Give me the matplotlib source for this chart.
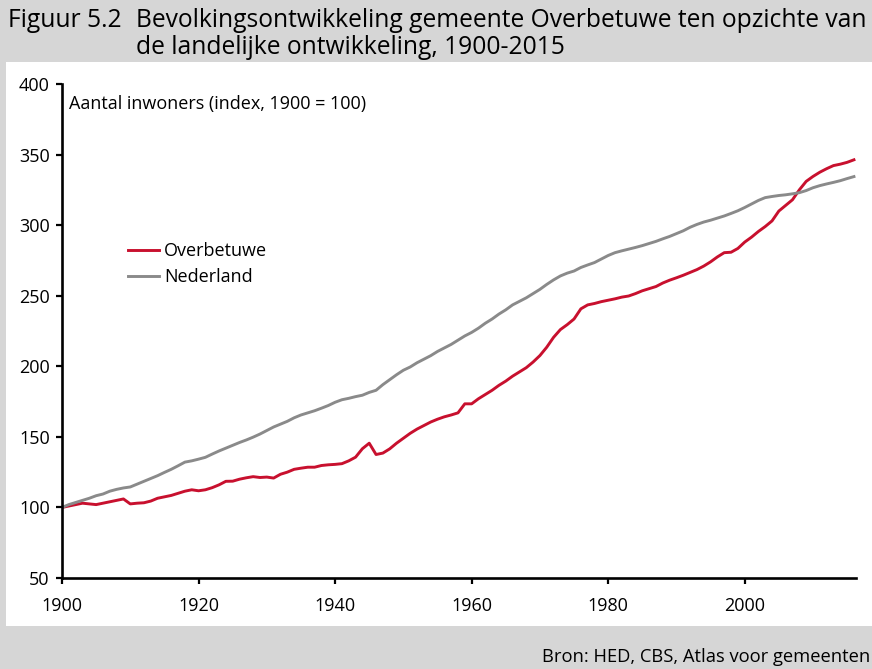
import matplotlib
matplotlib.use("Agg")
import matplotlib.pyplot as plt
from matplotlib.patches import Rectangle

plt.rcParams['font.family'] = ['Open Sans', 'DejaVu Sans']

years = list(range(1900, 2017))

overbetuwe = [
    100, 101, 102, 103, 102.5, 102, 103, 104, 105, 106,
    102.5, 103, 103.3, 104.5, 106.5, 107.5, 108.5, 110, 111.5, 112.5,
    111.8, 112.5, 114, 116, 118.5, 118.6, 120, 121, 121.8, 121.2,
    121.5, 120.8, 123.5, 125, 127, 127.8, 128.5, 128.5, 129.7, 130.2,
    130.5, 131, 133, 135.6, 141.6, 145.5, 137.5, 138.5, 141.5, 145.5,
    149, 152.5, 155.5, 158, 160.5, 162.5, 164.2, 165.5, 167, 173.4,
    173.4, 177, 180, 183, 186.5, 189.5, 193, 196, 199, 203,
    207.6, 213.5, 220.5, 226, 229.5, 233.5, 240.7, 243.5, 244.5, 245.8,
    246.8, 247.8, 249, 249.8, 251.5, 253.5, 255, 256.5, 259, 261,
    262.7, 264.5, 266.5, 268.5, 271, 274, 277.5, 280.5, 280.8, 283.5,
    288, 291.5, 295.5, 299, 303, 310, 314, 318, 325, 331,
    334.5, 337.5, 340, 342.2, 343.2, 344.5, 346.3,
]

nederland = [
    100, 102, 103.5, 105, 106.5, 108.3, 109.5, 111.5, 112.8, 113.8,
    114.5, 116.5, 118.5, 120.5, 122.5, 124.8, 127, 129.5, 132.1, 133,
    134.2, 135.5, 137.8, 140, 142, 144, 146, 147.8, 149.8, 152,
    154.5, 157, 159, 161, 163.5, 165.5, 167, 168.5, 170.3, 172.2,
    174.5, 176.3, 177.3, 178.5, 179.5, 181.5, 183, 187, 190.5, 194,
    197.2, 199.5, 202.5, 205, 207.5, 210.5, 213, 215.5, 218.5, 221.5,
    224, 227, 230.5, 233.5, 237, 240, 243.5, 246, 248.5, 251.5,
    254.5, 258, 261.2, 264, 266, 267.5, 270, 271.8, 273.5, 276,
    278.5, 280.5, 281.8, 283, 284.2, 285.5, 287, 288.5, 290.3, 292,
    294, 296, 298.5, 300.5, 302.2, 303.5, 305, 306.5, 308.3, 310.2,
    312.5, 315, 317.5, 319.5, 320.3, 321, 321.5, 322.2, 323, 324.5,
    326.5, 328, 329.2, 330.3, 331.5, 333, 334.4,
]

series_names = ["Overbetuwe", "Nederland"]
x_ticks = [1900, 1920, 1940, 1960, 1980, 2000]
y_ticks = [50, 100, 150, 200, 250, 300, 350, 400]

title_prefix = "Figuur 5.2"
title_line1 = "Bevolkingsontwikkeling gemeente Overbetuwe ten opzichte van"
title_line2 = "de landelijke ontwikkeling, 1900-2015"
y_label = "Aantal inwoners (index, 1900 = 100)"
source = "Bron: HED, CBS, Atlas voor gemeenten"

W, H = 872, 669
fig = plt.figure(figsize=(W / 100, H / 100), dpi=100)
fig.patch.set_facecolor("#d6d6d6")

# white panel
fig.patches.append(Rectangle((6 / W, 1 - 626 / H), 1 - 6 / W, (626 - 62) / H,
                             transform=fig.transFigure, facecolor="white",
                             edgecolor="none", zorder=-5))

ax = fig.add_axes([62 / W, 1 - 578 / H, (856 - 62) / W, (578 - 84) / H])
ax.set_facecolor("none")
ax.set_zorder(2)

red = "#c8102e"
grey = "#8a8a8a"
ax.plot(years, overbetuwe, color=red, lw=2.1, label=series_names[0], solid_joinstyle="round")
ax.plot(years, nederland, color=grey, lw=2.1, label=series_names[1], solid_joinstyle="round")

ax.set_xlim(1900, 2016.3)
ax.set_ylim(50, 400)
ax.set_xticks(x_ticks)
ax.set_yticks(y_ticks)
for s in ["top", "right"]:
    ax.spines[s].set_visible(False)
for s in ["left", "bottom"]:
    ax.spines[s].set_linewidth(1.9)
    ax.spines[s].set_color("black")
ax.tick_params(axis="both", direction="out", length=4.5, width=1.6, labelsize=13, colors="black")
ax.tick_params(axis="x", pad=9)
ax.tick_params(axis="y", pad=4.3)

fig.text(69 / W, 1 - 109 / H, y_label, fontsize=13, va="baseline", ha="left")

leg = ax.legend(loc="upper left", bbox_to_anchor=(128 / W, 1 - 242 / H),
                bbox_transform=fig.transFigure, frameon=False, fontsize=13,
                handlelength=1.72, handletextpad=0.28, labelspacing=0.45,
                borderaxespad=0, borderpad=0)

fs_title = 17.7
fig.text(8 / W, 1 - 27 / H, title_prefix, fontsize=fs_title, va="baseline", ha="left")
fig.text(136 / W, 1 - 27 / H, title_line1, fontsize=fs_title, va="baseline", ha="left")
fig.text(136 / W, 1 - 54 / H, title_line2, fontsize=fs_title, va="baseline", ha="left")

fig.text(542 / W, 1 - 662 / H, source, fontsize=13.2, va="baseline", ha="left")

fig.savefig("out.png", dpi=100, facecolor=fig.get_facecolor())
